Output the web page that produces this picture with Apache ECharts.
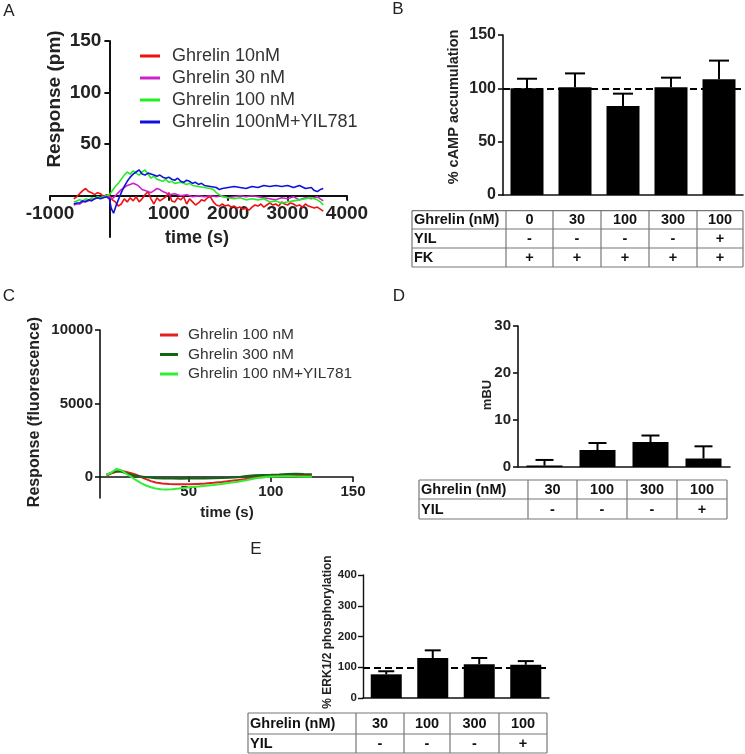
<!DOCTYPE html>
<html><head><meta charset="utf-8">
<script src="https://cdn.jsdelivr.net/npm/echarts@6/dist/echarts.min.js"></script>
<style>html,body{margin:0;padding:0;background:#fff;}#c{width:745px;height:754px;}</style>
</head><body><div id="c"></div>
<script>
// ---------- Panel A data (time s, response pm) ----------
const aNames = ['Ghrelin 10nM', 'Ghrelin 30 nM', 'Ghrelin 100 nM', 'Ghrelin 100nM+YIL781'];
const aRed10 = [[-600,-3],[-550,-1],[-500,2],[-450,5],[-400,7],[-350,4],[-300,3],[-250,1],[-200,3],[-150,2],[-100,-1],[-50,1],[0,0],[50,-4],[100,-6],[150,-10],[200,-8],[250,-3],[300,-6],[350,-2],[400,-5],[450,-1],[500,-6],[550,-3],[600,1],[650,4],[700,-3],[750,-8],[800,-2],[850,-5],[900,-3],[950,-1],[1000,3],[1050,-5],[1100,-6],[1150,-2],[1200,-4],[1250,-1],[1300,-8],[1350,-3],[1400,-6],[1450,-9],[1500,-7],[1550,-4],[1600,-5],[1650,-2],[1700,-1],[1750,-6],[1800,-9],[1850,-10],[1900,-8],[1950,-10],[2000,-9],[2050,-11],[2100,-10],[2150,-12],[2200,-11],[2250,-13],[2300,-12],[2350,-14],[2400,-11],[2450,-9],[2500,-10],[2550,-8],[2600,-11],[2650,-9],[2700,-7],[2750,-9],[2800,-8],[2850,-10],[2900,-6],[2950,-8],[3000,-9],[3050,-7],[3100,-8],[3150,-10],[3200,-9],[3250,-11],[3300,-8],[3350,-10],[3400,-11],[3450,-12],[3500,-11],[3550,-13],[3600,-15]];
const aMagenta30 = [[-600,-9],[-550,-8],[-500,-8],[-450,-6],[-400,-5],[-350,-5],[-300,-3],[-250,-3],[-200,-2],[-150,-2],[-100,-1],[-50,0],[0,-1],[50,-3],[100,0],[150,3],[200,6],[250,8],[300,10],[350,11],[400,12],[450,11],[500,9],[550,6],[600,5],[650,4],[700,3],[750,5],[800,7],[850,6],[900,4],[950,3],[1000,1],[1100,2],[1200,0],[1300,1],[1400,-1],[1500,0],[1600,-1],[1700,0],[1800,-1],[1900,0],[2000,-2],[2100,-1],[2200,0],[2300,-1],[2400,0],[2500,-1],[2600,-2],[2700,-3],[2800,-4],[2900,-2],[3000,-3],[3100,-1],[3200,-4],[3300,-2],[3400,-3],[3500,-1],[3550,-3],[3600,-5]];
const aGreen100 = [[-600,-6],[-550,-5],[-500,-4],[-450,-5],[-400,-3],[-350,-4],[-300,-2],[-250,-3],[-200,-1],[-150,-2],[-100,-1],[-50,0],[0,1],[50,5],[100,9],[150,12],[200,16],[250,20],[300,23],[350,21],[400,24],[450,22],[500,20],[550,23],[600,25],[650,21],[700,17],[750,19],[800,16],[850,15],[900,14],[950,16],[1000,13],[1050,14],[1100,12],[1200,13],[1300,11],[1350,12],[1400,10],[1500,9],[1600,8],[1700,7],[1750,6],[1800,3],[1850,1],[1900,-1],[2000,-2],[2100,-3],[2200,-2],[2300,-4],[2400,-3],[2500,-4],[2600,-3],[2700,-6],[2800,-5],[2900,-7],[3000,-6],[3100,-5],[3200,-4],[3300,-3],[3400,-2],[3500,-4],[3550,-6],[3600,-9]];
const aBlue100YIL = [[-600,-8],[-550,-7],[-500,-7],[-450,-5],[-400,-6],[-350,-4],[-300,-5],[-250,-3],[-200,-2],[-150,-3],[-100,-2],[-50,-1],[0,-3],[30,-12],[70,-17],[110,-10],[150,-4],[200,3],[250,9],[300,14],[350,18],[400,21],[450,23],[500,25],[550,21],[600,20],[650,22],[700,21],[750,20],[800,19],[850,20],[900,18],[950,17],[1000,18],[1050,16],[1100,15],[1150,17],[1200,14],[1250,13],[1300,15],[1350,14],[1400,12],[1450,13],[1500,11],[1550,12],[1600,10],[1700,9],[1800,8],[1850,6],[1900,7],[2000,8],[2100,9],[2200,8],[2300,7],[2400,9],[2500,8],[2600,10],[2700,9],[2800,10],[2900,9],[3000,10],[3100,8],[3200,10],[3300,7],[3400,8],[3450,5],[3500,4],[3550,6],[3600,7]];
const aXTicks = [-1000, 1000, 2000, 3000, 4000];
const aYTicks = [50, 100, 150];

// ---------- Panel B data ----------
const bGhrelin = ['0', '30', '100', '300', '100'];
const bYIL = ['-', '-', '-', '-', '+'];
const bFK = ['+', '+', '+', '+', '+'];
const bValues = [100, 101, 83.5, 101, 108.5];
const bErrTop = [109, 114, 95, 110, 126];

// ---------- Panel C data (time s, fluorescence) ----------
const cNames = ['Ghrelin 100 nM', 'Ghrelin 300 nM', 'Ghrelin 100 nM+YIL781'];
const cRed100 = [[0,100],[3,250],[6,350],[9,420],[12,340],[15,250],[18,150],[21,0],[24,-150],[27,-280],[30,-380],[34,-440],[38,-470],[42,-490],[46,-500],[50,-490],[55,-470],[60,-450],[65,-400],[70,-340],[75,-270],[80,-210],[85,-140],[90,-70],[95,-10],[100,30],[105,50],[110,70],[115,90],[120,80],[125,60]];
const cDark300 = [[0,150],[3,300],[6,380],[9,350],[12,250],[15,150],[18,80],[22,20],[26,-40],[30,-80],[35,-100],[40,-110],[45,-120],[50,-110],[55,-100],[60,-100],[65,-90],[70,-70],[75,-50],[80,-20],[85,60],[90,120],[95,140],[100,150],[105,170],[110,200],[115,220],[120,200],[125,190]];
const cLight100YIL = [[0,150],[3,300],[6,560],[9,450],[12,220],[15,0],[18,-220],[21,-420],[24,-580],[27,-700],[30,-790],[33,-840],[36,-860],[40,-840],[44,-790],[48,-730],[52,-680],[56,-640],[60,-600],[65,-540],[70,-470],[75,-400],[80,-320],[85,-220],[90,-100],[95,-20],[100,20],[105,40],[110,50],[115,30],[120,20],[125,10]];
const cXTicks = [50, 100, 150];
const cYTicks = [0, 5000, 10000];

// ---------- Panel D data ----------
const dGhrelin = ['30', '100', '300', '100'];
const dYIL = ['-', '-', '-', '+'];
const dValues = [0.3, 3.6, 5.3, 1.8];
const dErrTop = [1.5, 5.1, 6.7, 4.4];

// ---------- Panel E data ----------
const eGhrelin = ['30', '100', '300', '100'];
const eYIL = ['-', '-', '-', '+'];
const eValues = [77, 130, 110, 108];
const eErrTop = [87, 155, 130, 120];

// ---------- helpers ----------
const FONT = '"Liberation Sans", Arial, Helvetica, sans-serif';
const AX = '#111';

function vAxis(gi, min, max, ticks, fontSize, margin, lw, offset) {
  return {
    gridIndex: gi, type: 'value', min: min, max: max, offset: offset || 0,
    axisLine: {show: true, onZero: false, lineStyle: {color: AX, width: lw}},
    axisTick: {show: true, customValues: ticks, length: 5, lineStyle: {color: AX, width: lw}},
    axisLabel: {show: true, customValues: ticks, formatter: v => String(v), fontSize: fontSize, fontWeight: 'bold',
      color: '#222', fontFamily: FONT, margin: margin},
    splitLine: {show: false}
  };
}
function vAxisInt(gi, min, max, interval, fontSize, margin, lw) {
  return {
    gridIndex: gi, type: 'value', min: min, max: max, interval: interval,
    axisLine: {show: true, onZero: false, lineStyle: {color: AX, width: lw}},
    axisTick: {show: true, length: 5, lineStyle: {color: AX, width: lw}},
    axisLabel: {show: true, formatter: v => String(v), fontSize: fontSize, fontWeight: 'bold', color: '#222', fontFamily: FONT, margin: margin},
    splitLine: {show: false}
  };
}
function catAxis(gi, cats) {
  return {
    gridIndex: gi, type: 'category', data: cats.map((c, i) => c + '#' + i),
    axisLine: {show: true, onZero: false, lineStyle: {color: AX, width: 1.6}},
    axisTick: {show: false}, axisLabel: {show: false}, splitLine: {show: false}
  };
}
function errRender(capW) {
  return function (params, api) {
    const i = api.value(0), v = api.value(1), t = api.value(2);
    const p1 = api.coord([i, v]), p2 = api.coord([i, t]);
    return {type: 'group', children: [
      {type: 'line', shape: {x1: p1[0], y1: p1[1], x2: p2[0], y2: p2[1]}, style: {stroke: '#000', lineWidth: 2}},
      {type: 'line', shape: {x1: p2[0] - capW / 2, y1: p2[1], x2: p2[0] + capW / 2, y2: p2[1]}, style: {stroke: '#000', lineWidth: 2}}
    ]};
  };
}
function barSeries(gi, values, width, dashed) {
  const s = {type: 'bar', xAxisIndex: gi, yAxisIndex: gi, data: values, barWidth: width,
    itemStyle: {color: '#000'}, silent: true};
  if (dashed) {
    s.markLine = {silent: true, symbol: ['none', 'none'], label: {show: false},
      lineStyle: {color: '#000', width: 2, type: [7, 4]}, data: [{yAxis: 100}]};
  }
  return s;
}
function errSeries(gi, values, tops, capW) {
  return {type: 'custom', xAxisIndex: gi, yAxisIndex: gi, renderItem: errRender(capW),
    data: values.map((v, i) => [i, v, tops[i]]), encode: {x: 0, y: [1, 2]}, z: 3, silent: true};
}
function lineSeries(gi, name, data, color, w) {
  return {type: 'line', xAxisIndex: gi, yAxisIndex: gi, name: name, data: data,
    showSymbol: false, symbol: 'none', silent: true,
    lineStyle: {color: color, width: w}, itemStyle: {color: color}};
}
function txt(x, y, s, size, weight, rot) {
  return {type: 'text', x: x, y: y, rotation: rot || 0, silent: true,
    style: {text: s, fontSize: size, fontWeight: weight, fontFamily: FONT, fill: '#222',
      align: 'center', verticalAlign: 'middle', textAlign: 'center', textVerticalAlign: 'middle'}};
}
function tableEls(xs, ys, rows, fs) {
  const els = [];
  const x0 = xs[0], x1 = xs[xs.length - 1], y0 = ys[0], y1 = ys[ys.length - 1];
  ys.forEach(y => els.push({type: 'line', silent: true, shape: {x1: x0, y1: y, x2: x1, y2: y}, style: {stroke: '#777', lineWidth: 1.2}}));
  xs.forEach(x => els.push({type: 'line', silent: true, shape: {x1: x, y1: y0, x2: x, y2: y1}, style: {stroke: '#777', lineWidth: 1.2}}));
  rows.forEach((row, r) => {
    const cy = (ys[r] + ys[r + 1]) / 2 + 0.5;
    row.forEach((s, c) => {
      if (c === 0) {
        els.push({type: 'text', x: x0 + 2, y: cy, silent: true, style: {text: s, fontSize: fs, fontWeight: 'bold', fontFamily: FONT, fill: '#111',
          align: 'left', verticalAlign: 'middle', textAlign: 'left', textVerticalAlign: 'middle'}});
      } else {
        els.push({type: 'text', x: (xs[c] + xs[c + 1]) / 2, y: cy, silent: true, style: {text: s, fontSize: fs, fontWeight: 'bold', fontFamily: FONT, fill: '#111',
          align: 'center', verticalAlign: 'middle', textAlign: 'center', textVerticalAlign: 'middle'}});
      }
    });
  });
  return els;
}

const R90 = Math.PI / 2;
const graphics = [].concat(
  [txt(9, 11, 'A', 17, 'normal'), txt(398, 9, 'B', 17, 'normal'), txt(9, 296, 'C', 17, 'normal'),
   txt(399, 296, 'D', 17, 'normal'), txt(256, 549, 'E', 17, 'normal'),
   txt(55, 99, 'Response (pm)', 19, 'bold', R90), txt(197, 238, 'time (s)', 18, 'bold'),
   txt(454, 107, '% cAMP accumulation', 14.5, 'bold', R90),
   txt(35, 412, 'Response (fluorescence)', 16, 'bold', R90), txt(227, 513, 'time (s)', 15, 'bold'),
   txt(487, 395, 'mBU', 13, 'bold', R90),
   txt(328, 632, '% ERK1/2 phosphorylation', 12, 'bold', R90)],
  tableEls([412, 506, 553, 601, 649, 697, 743], [210.7, 229, 248, 267],
    [['Ghrelin (nM)'].concat(bGhrelin), ['YIL'].concat(bYIL), ['FK'].concat(bFK)], 14.5),
  tableEls([419, 528, 577, 627, 677, 727], [480, 499, 519],
    [['Ghrelin (nM)'].concat(dGhrelin), ['YIL'].concat(dYIL)], 14.5),
  tableEls([248, 356, 404, 450, 499, 547], [713, 734, 753],
    [['Ghrelin (nM)'].concat(eGhrelin), ['YIL'].concat(eYIL)], 14.5)
);

const aColors = ['#ee1111', '#cc22cc', '#22ee22', '#1111dd'];
const cColors = ['#dd2222', '#116611', '#33ee33'];
const aData = [aRed10, aMagenta30, aGreen100, aBlue100YIL];
const cData = [cRed100, cDark300, cLight100YIL];

// grid geometry; axes crossing at zero are placed with offsets
const gA = {left: 50, top: 41, width: 297, height: 196};
const gC = {left: 100, top: 330, width: 253, height: 168};
const aXMin = -1000, aXMax = 4000, aYMin = -40, aYMax = 150;
const cXMin = -4, cXMax = 150, cYMin = -1430, cYMax = 10000;
const aXOff = -gA.height * (0 - aYMin) / (aYMax - aYMin);
const aYOff = -gA.width * (0 - aXMin) / (aXMax - aXMin);
const cXOff = -gC.height * (0 - cYMin) / (cYMax - cYMin);

const option = {
  animation: false,
  backgroundColor: '#fff',
  textStyle: {fontFamily: FONT},
  grid: [
    Object.assign({outerBoundsMode: 'none'}, gA),
    {left: 503, top: 35, width: 240, height: 160, outerBoundsMode: 'none'},
    Object.assign({outerBoundsMode: 'none'}, gC),
    {left: 518, top: 326, width: 212, height: 141, outerBoundsMode: 'none'},
    {left: 363, top: 575, width: 186, height: 123, outerBoundsMode: 'none'}
  ],
  xAxis: [
    vAxis(0, aXMin, aXMax, aXTicks, 19, 9, 2, aXOff),
    catAxis(1, bGhrelin),
    vAxis(2, cXMin, cXMax, cXTicks, 15, 7, 1.6, cXOff),
    catAxis(3, dGhrelin),
    catAxis(4, eGhrelin)
  ],
  yAxis: [
    vAxis(0, aYMin, aYMax, aYTicks, 19, 8, 2, aYOff),
    vAxisInt(1, 0, 150, 50, 16, 7, 1.6),
    vAxis(2, cYMin, cYMax, cYTicks, 15, 7, 1.6, 0),
    vAxisInt(3, 0, 30, 10, 15, 7, 1.6),
    vAxisInt(4, 0, 400, 100, 11.5, 6, 1.4)
  ],
  legend: [
    {data: aNames.map(n => 'A|' + n), formatter: n => n.slice(2), left: 140, top: 47, orient: 'vertical',
     padding: 0, itemWidth: 20, itemHeight: 3, itemGap: 4, icon: 'rect', selectedMode: false,
     textStyle: {fontSize: 18, color: '#333', fontFamily: FONT, padding: [0, 0, 0, 7]}},
    {data: cNames.map(n => 'C|' + n), formatter: n => n.slice(2), left: 160, top: 327, orient: 'vertical',
     padding: 0, itemWidth: 18, itemHeight: 3, itemGap: 3.5, icon: 'rect', selectedMode: false,
     textStyle: {fontSize: 15.5, color: '#333', fontFamily: FONT, padding: [0, 0, 0, 5]}}
  ],
  series: [].concat(
    aData.map((d, i) => lineSeries(0, 'A|' + aNames[i], d, aColors[i], 1.6)),
    [barSeries(1, bValues, 33, true), errSeries(1, bValues, bErrTop, 20)],
    cData.map((d, i) => lineSeries(2, 'C|' + cNames[i], d, cColors[i], 2)),
    [barSeries(3, dValues, 36, false), errSeries(3, dValues, dErrTop, 18)],
    [barSeries(4, eValues, 31, true), errSeries(4, eValues, eErrTop, 16)]
  ),
  graphic: {elements: graphics}
};

const chart = echarts.init(document.getElementById('c'), null, {renderer: 'canvas', width: 745, height: 754});
chart.setOption(option);
</script></body></html>
